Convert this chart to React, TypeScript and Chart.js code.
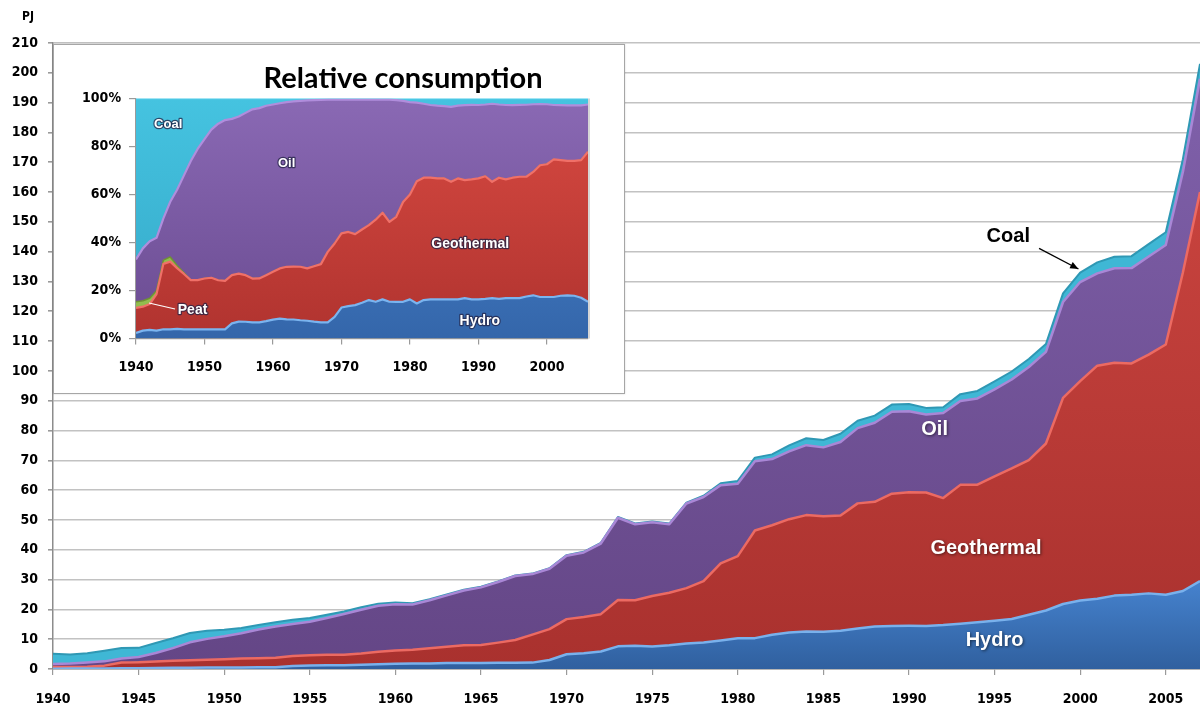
import React, { useEffect, useRef } from "react";
import { Chart, registerables } from "chart.js";

Chart.register(...registerables);

// ---------- DATA (PJ per year) ----------
const years = [
  1940, 1941, 1942, 1943, 1944, 1945, 1946, 1947, 1948, 1949,
  1950, 1951, 1952, 1953, 1954, 1955, 1956, 1957, 1958, 1959,
  1960, 1961, 1962, 1963, 1964, 1965, 1966, 1967, 1968, 1969,
  1970, 1971, 1972, 1973, 1974, 1975, 1976, 1977, 1978, 1979,
  1980, 1981, 1982, 1983, 1984, 1985, 1986, 1987, 1988, 1989,
  1990, 1991, 1992, 1993, 1994, 1995, 1996, 1997, 1998, 1999,
  2000, 2001, 2002, 2003, 2004, 2005, 2006, 2007,
];

const hydro = [
  0.12, 0.16, 0.19, 0.2, 0.27, 0.27, 0.35, 0.39, 0.46, 0.49,
  0.5, 0.52, 0.56, 0.6, 1.04, 1.2, 1.27, 1.29, 1.39, 1.58,
  1.76, 1.83, 1.87, 1.98, 2.02, 2.04, 2.06, 2.1, 2.14, 3.04,
  4.93, 5.31, 5.88, 7.6, 7.81, 7.57, 7.95, 8.54, 8.89, 9.53,
  10.29, 10.35, 11.52, 12.23, 12.62, 12.52, 12.86, 13.58, 14.28, 14.46,
  14.49, 14.45, 14.75, 15.21, 15.67, 16.21, 16.77, 18.2, 19.62, 21.8,
  23.01, 23.6, 24.62, 24.93, 25.37, 24.91, 26.16, 29.5,
];

const geothermal = [
  0.53, 0.49, 0.57, 0.93, 1.91, 2.0, 2.2, 2.38, 2.48, 2.62,
  2.8, 2.97, 3.03, 3.17, 3.32, 3.42, 3.53, 3.53, 3.79, 4.2,
  4.44, 4.62, 5.12, 5.5, 5.93, 6.02, 6.79, 7.63, 9.41, 10.34,
  11.8, 12.14, 12.52, 15.56, 15.23, 16.93, 17.62, 18.58, 20.57, 25.92,
  27.57, 36.09, 36.72, 38.03, 39.01, 38.71, 38.66, 41.98, 41.82, 44.35,
  44.81, 44.76, 42.58, 46.56, 46.18, 48.44, 50.5, 51.9, 56.03, 69.17,
  73.55, 78.16, 78.14, 77.56, 80.09, 83.94, 106.88, 130.5,
];

const peat = [
  0.13, 0.12, 0.13, 0.09, 0.11, 0.14, 0.1, 0.05, 0, 0,
  0, 0, 0, 0, 0, 0, 0, 0, 0, 0,
  0, 0, 0, 0, 0, 0, 0, 0, 0, 0,
  0, 0, 0, 0, 0, 0, 0, 0, 0, 0,
  0, 0, 0, 0, 0, 0, 0, 0, 0, 0,
  0, 0, 0, 0, 0, 0, 0, 0, 0, 0,
  0, 0, 0, 0, 0, 0, 0, 0,
];

const oil = [
  0.9, 1.07, 1.26, 1.34, 1.22, 1.63, 2.74, 4.18, 6.01, 7.0,
  7.66, 8.51, 9.65, 10.52, 10.74, 11.2, 12.3, 13.61, 14.7, 15.46,
  15.54, 15.2, 16.05, 17.23, 18.38, 19.32, 20.34, 21.48, 20.29, 20.25,
  21.28, 21.65, 23.69, 27.59, 25.52, 24.75, 22.98, 28.4, 28.24, 26.23,
  24.29, 23.26, 22.18, 22.73, 23.45, 23.12, 24.62, 25.24, 26.52, 27.5,
  27.2, 26.19, 28.54, 28.12, 28.92, 29.14, 29.84, 31.2, 30.74, 32.13,
  33.25, 30.96, 31.67, 31.99, 32.92, 33.4, 33.69, 38.0,
];

const coal = [
  3.42, 3.06, 3.15, 3.54, 3.5, 3.05, 3.31, 3.3, 3.15, 2.69,
  2.24, 1.79, 1.55, 1.41, 1.4, 1.28, 1.09, 0.87, 0.83, 0.66,
  0.56, 0.44, 0.35, 0.3, 0.27, 0.22, 0.21, 0.19, 0.16, 0.17,
  0.19, 0.2, 0.21, 0.26, 0.24, 0.25, 0.24, 0.28, 0.41, 0.62,
  0.95, 1.21, 1.58, 2.03, 2.32, 2.46, 2.76, 2.5, 2.38, 2.39,
  2.4, 2.19, 1.93, 2.31, 2.52, 2.7, 2.69, 2.7, 2.62, 2.9,
  3.19, 3.68, 3.87, 4.02, 4.13, 4.25, 4.28, 5.0,
];

// inset covers 1940-2006
const insetLastYear = 2006;

// ---------- STYLE ----------
const AXIS_FONT = '"DejaVu Sans Condensed", "DejaVu Sans", Verdana, sans-serif';
const LABEL_FONT = '"Liberation Sans", Arial, sans-serif';

function grad(ctx: any, vTop: number, vBot: number, cTop: string, cBot: string) {
  const chart = ctx.chart;
  const a = chart.chartArea;
  const y = chart.scales && chart.scales.y;
  if (!a || !y) return cBot;
  const g = chart.ctx.createLinearGradient(0, y.getPixelForValue(vTop), 0, y.getPixelForValue(vBot));
  g.addColorStop(0, cTop);
  g.addColorStop(1, cBot);
  return g;
}

function ds(label: string, xs: number[], vals: number[], fill: any, bg: any, border: string, bw: number) {
  return {
    label,
    data: xs.map((x, i) => ({ x, y: vals[i] })),
    fill,
    backgroundColor: bg,
    borderColor: border,
    borderWidth: bw,
    pointRadius: 0,
    pointHoverRadius: 0,
    tension: 0,
    borderJoinStyle: "round" as const,
  };
}

const mainLabels = {
  id: "mainLabels",
  afterDraw(chart: any) {
    const { ctx, scales } = chart;
    const xs = scales.x;
    const ys = scales.y;
    const px = (yr: number) => xs.getPixelForValue(yr);
    const py = (v: number) => ys.getPixelForValue(v);
    ctx.save();
    ctx.textAlign = "center";
    ctx.textBaseline = "middle";
    ctx.font = `bold 20px ${LABEL_FONT}`;
    ctx.shadowColor = "rgba(0,0,0,0.55)";
    ctx.shadowBlur = 3;
    ctx.shadowOffsetX = 1;
    ctx.shadowOffsetY = 1;
    ctx.fillStyle = "#ffffff";
    ctx.fillText("Oil", px(1991.5), py(80.2));
    ctx.fillText("Geothermal", px(1994.5), py(40.3));
    ctx.fillText("Hydro", px(1995.0), py(9.7));
    ctx.shadowColor = "transparent";
    ctx.fillStyle = "#000";
    ctx.fillText("Coal", px(1995.8), py(145.2));
    // arrow
    const x1 = px(1997.6), y1 = py(141.1), x2 = px(1999.9), y2 = py(134.2);
    ctx.strokeStyle = "#000";
    ctx.lineWidth = 1.3;
    ctx.beginPath();
    ctx.moveTo(x1, y1);
    ctx.lineTo(x2, y2);
    ctx.stroke();
    const ang = Math.atan2(y2 - y1, x2 - x1);
    ctx.beginPath();
    ctx.moveTo(x2, y2);
    ctx.lineTo(x2 - 9 * Math.cos(ang - 0.4), y2 - 9 * Math.sin(ang - 0.4));
    ctx.lineTo(x2 - 9 * Math.cos(ang + 0.4), y2 - 9 * Math.sin(ang + 0.4));
    ctx.closePath();
    ctx.fillStyle = "#000";
    ctx.fill();
    // unit
    ctx.font = `bold 12px ${AXIS_FONT}`;
    ctx.fillText("PJ", 28, 17);
    ctx.restore();
  },
};

const insetLabels = {
  id: "insetLabels",
  afterDraw(chart: any) {
    const { ctx, scales } = chart;
    const px = (yr: number) => scales.x.getPixelForValue(yr);
    const py = (v: number) => scales.y.getPixelForValue(v);
    ctx.save();
    // title
    ctx.font = `bold 29px Lato, "Open Sans", sans-serif`;
    ctx.fillStyle = "#000";
    ctx.textAlign = "center";
    ctx.textBaseline = "alphabetic";
    ctx.fillText("Relative consumption", 349, 43);
    // frame of plot area
    const a = chart.chartArea;
    ctx.strokeStyle = "#c8c8c8";
    ctx.lineWidth = 1.5;
    ctx.beginPath();
    ctx.moveTo(a.right + 1, a.top);
    ctx.lineTo(a.right + 1, a.bottom);
    ctx.stroke();
    // peat leader line
    ctx.strokeStyle = "#ffffff";
    ctx.lineWidth = 1.2;
    ctx.beginPath();
    ctx.moveTo(px(1941.9), py(14.8));
    ctx.lineTo(px(1945.7), py(12.3));
    ctx.stroke();
    const txt = (t: string, x: number, y: number, size: number, align: CanvasTextAlign) => {
      ctx.font = `bold ${size}px ${LABEL_FONT}`;
      ctx.textAlign = align;
      ctx.textBaseline = "middle";
      ctx.lineWidth = 2.4;
      ctx.strokeStyle = "rgba(35,35,70,0.75)";
      ctx.lineJoin = "round";
      ctx.strokeText(t, x, y);
      ctx.fillStyle = "#ffffff";
      ctx.fillText(t, x, y);
    };
    txt("Coal", px(1944.7), py(89.4), 13, "center");
    txt("Oil", px(1962.0), py(73.1), 13, "center");
    txt("Geothermal", px(1988.8), py(39.4), 14, "center");
    txt("Hydro", px(1990.2), py(7.3), 14, "center");
    txt("Peat", px(1946.1), py(12.0), 14, "left");
    ctx.restore();
  },
};

export default function App() {
  const mainRef = useRef<HTMLCanvasElement | null>(null);
  const insetRef = useRef<HTMLCanvasElement | null>(null);

  useEffect(() => {
    if (!mainRef.current || !insetRef.current) return;

    const mainChart = new Chart(mainRef.current, {
      type: "line",
      data: {
        datasets: [
          ds("Hydro", years, hydro, "origin",
            (c: any) => grad(c, 30, 0, "#4683cf", "#30609f"), "#79b1ec", 2.5),
          ds("Geothermal", years, geothermal, "-1",
            (c: any) => grad(c, 160, 0, "#c8433e", "#a9312e"), "#ec6a62", 2.5),
          ds("Peat", years, peat, "-1", "#8db84a", "#8db84a", 0),
          ds("Oil", years, oil, "-1",
            (c: any) => grad(c, 200, 0, "#8061ab", "#644686"), "#a987d6", 2.5),
          ds("Coal", years, coal, "-1", "#3fb7d5", "#2f98b4", 2),
        ],
      },
      options: {
        responsive: false,
        animation: false,
        devicePixelRatio: 1,
        layout: { padding: { top: 43, right: 0, left: 0, bottom: 0 } },
        plugins: {
          legend: { display: false },
          tooltip: { enabled: false },
          title: { display: false },
        },
        scales: {
          x: {
            type: "linear",
            min: 1940,
            max: 2007,
            afterFit: (s: any) => { s.height = 40; },
            ticks: {
              stepSize: 5,
              includeBounds: false,
              autoSkip: false,
              maxRotation: 0,
              padding: 16,
              color: "#000",
              font: { family: AXIS_FONT, size: 14, weight: "bold" },
              callback: (v: any) => String(v),
            },
            grid: { drawOnChartArea: false, drawTicks: true, tickLength: 6, color: "#9a9a9a", lineWidth: 1.2 },
            border: { display: true, color: "#8c8c8c", width: 1.5 },
          },
          y: {
            type: "linear",
            stacked: true,
            min: 0,
            max: 210,
            afterFit: (s: any) => { s.width = 53; },
            ticks: {
              stepSize: 10,
              padding: 10,
              color: "#000",
              font: { family: AXIS_FONT, size: 14, weight: "bold" },
              callback: (v: any) => String(v),
            },
            grid: { color: "#c2c2c2", lineWidth: 1.6, tickLength: 5, tickColor: "#9a9a9a" },
            border: { display: true, color: "#8c8c8c", width: 1.5 },
          },
        },
      },
      plugins: [mainLabels],
    } as any);

    // inset: shares of the same series, 1940-2006
    const n = years.indexOf(insetLastYear) + 1;
    const iy = years.slice(0, n);
    const tot = iy.map((_, i) => hydro[i] + geothermal[i] + peat[i] + oil[i] + coal[i]);
    const share = (arr: number[]) => iy.map((_, i) => (arr[i] / tot[i]) * 100);

    const insetChart = new Chart(insetRef.current, {
      type: "line",
      data: {
        datasets: [
          ds("Hydro", iy, share(hydro), "origin",
            (c: any) => grad(c, 100, 0, "#4d8bd6", "#3466aa"), "#7ab4ef", 2.2),
          ds("Geothermal", iy, share(geothermal), "-1",
            (c: any) => grad(c, 100, 0, "#d84a42", "#b0332f"), "#f07068", 2.2),
          ds("Peat", iy, share(peat), "-1", "#92bd4e", "#6f9232", 1.5),
          ds("Oil", iy, share(oil), "-1",
            (c: any) => grad(c, 100, 0, "#8a69b4", "#6a4b91"), "#b08ddc", 2.2),
          ds("Coal", iy, share(coal), "-1",
            (c: any) => grad(c, 100, 0, "#45c3e0", "#34a8c8"), "#5fd3ee", 1.5),
        ],
      },
      options: {
        responsive: false,
        animation: false,
        devicePixelRatio: 1,
        layout: { padding: { top: 53.5, right: 36, left: 0, bottom: 0 } },
        plugins: {
          legend: { display: false },
          tooltip: { enabled: false },
          title: { display: false },
        },
        scales: {
          x: {
            type: "linear",
            min: 1940,
            max: insetLastYear,
            afterFit: (s: any) => { s.height = 54.5; },
            ticks: {
              stepSize: 10,
              includeBounds: false,
              autoSkip: false,
              maxRotation: 0,
              padding: 14,
              color: "#000",
              font: { family: AXIS_FONT, size: 14, weight: "bold" },
              callback: (v: any) => String(v),
            },
            grid: { drawOnChartArea: false, drawTicks: true, tickLength: 6, color: "#9a9a9a", lineWidth: 1.2 },
            border: { display: true, color: "#9a9a9a", width: 1.2 },
          },
          y: {
            type: "linear",
            stacked: true,
            min: 0,
            max: 100,
            afterFit: (s: any) => { s.width = 82; },
            ticks: {
              stepSize: 20,
              padding: 8,
              color: "#000",
              font: { family: AXIS_FONT, size: 14, weight: "bold" },
              callback: (v: any) => `${v}%`,
            },
            grid: { drawOnChartArea: false, drawTicks: true, tickLength: 7, color: "#9a9a9a", lineWidth: 1.2 },
            border: { display: true, color: "#9a9a9a", width: 1.2 },
          },
        },
      },
      plugins: [insetLabels],
    } as any);

    return () => {
      mainChart.destroy();
      insetChart.destroy();
    };
  }, []);

  return (
    <div style={{ position: "fixed", left: 0, top: 0, width: 1200, height: 709, background: "#fff", overflow: "hidden" }}>
      <canvas ref={mainRef} width={1200} height={709} style={{ position: "absolute", left: 0, top: 0, width: 1200, height: 709 }} />
      <div
        style={{
          position: "absolute",
          left: 53,
          top: 44,
          width: 572,
          height: 350,
          boxSizing: "border-box",
          border: "1px solid #a6a6a6",
          background: "#fff",
          boxShadow: "0 0 2px rgba(0,0,0,0.15)",
        }}
      >
        <canvas ref={insetRef} width={570} height={348} style={{ position: "absolute", left: 0, top: 0, width: 570, height: 348 }} />
      </div>
    </div>
  );
}
